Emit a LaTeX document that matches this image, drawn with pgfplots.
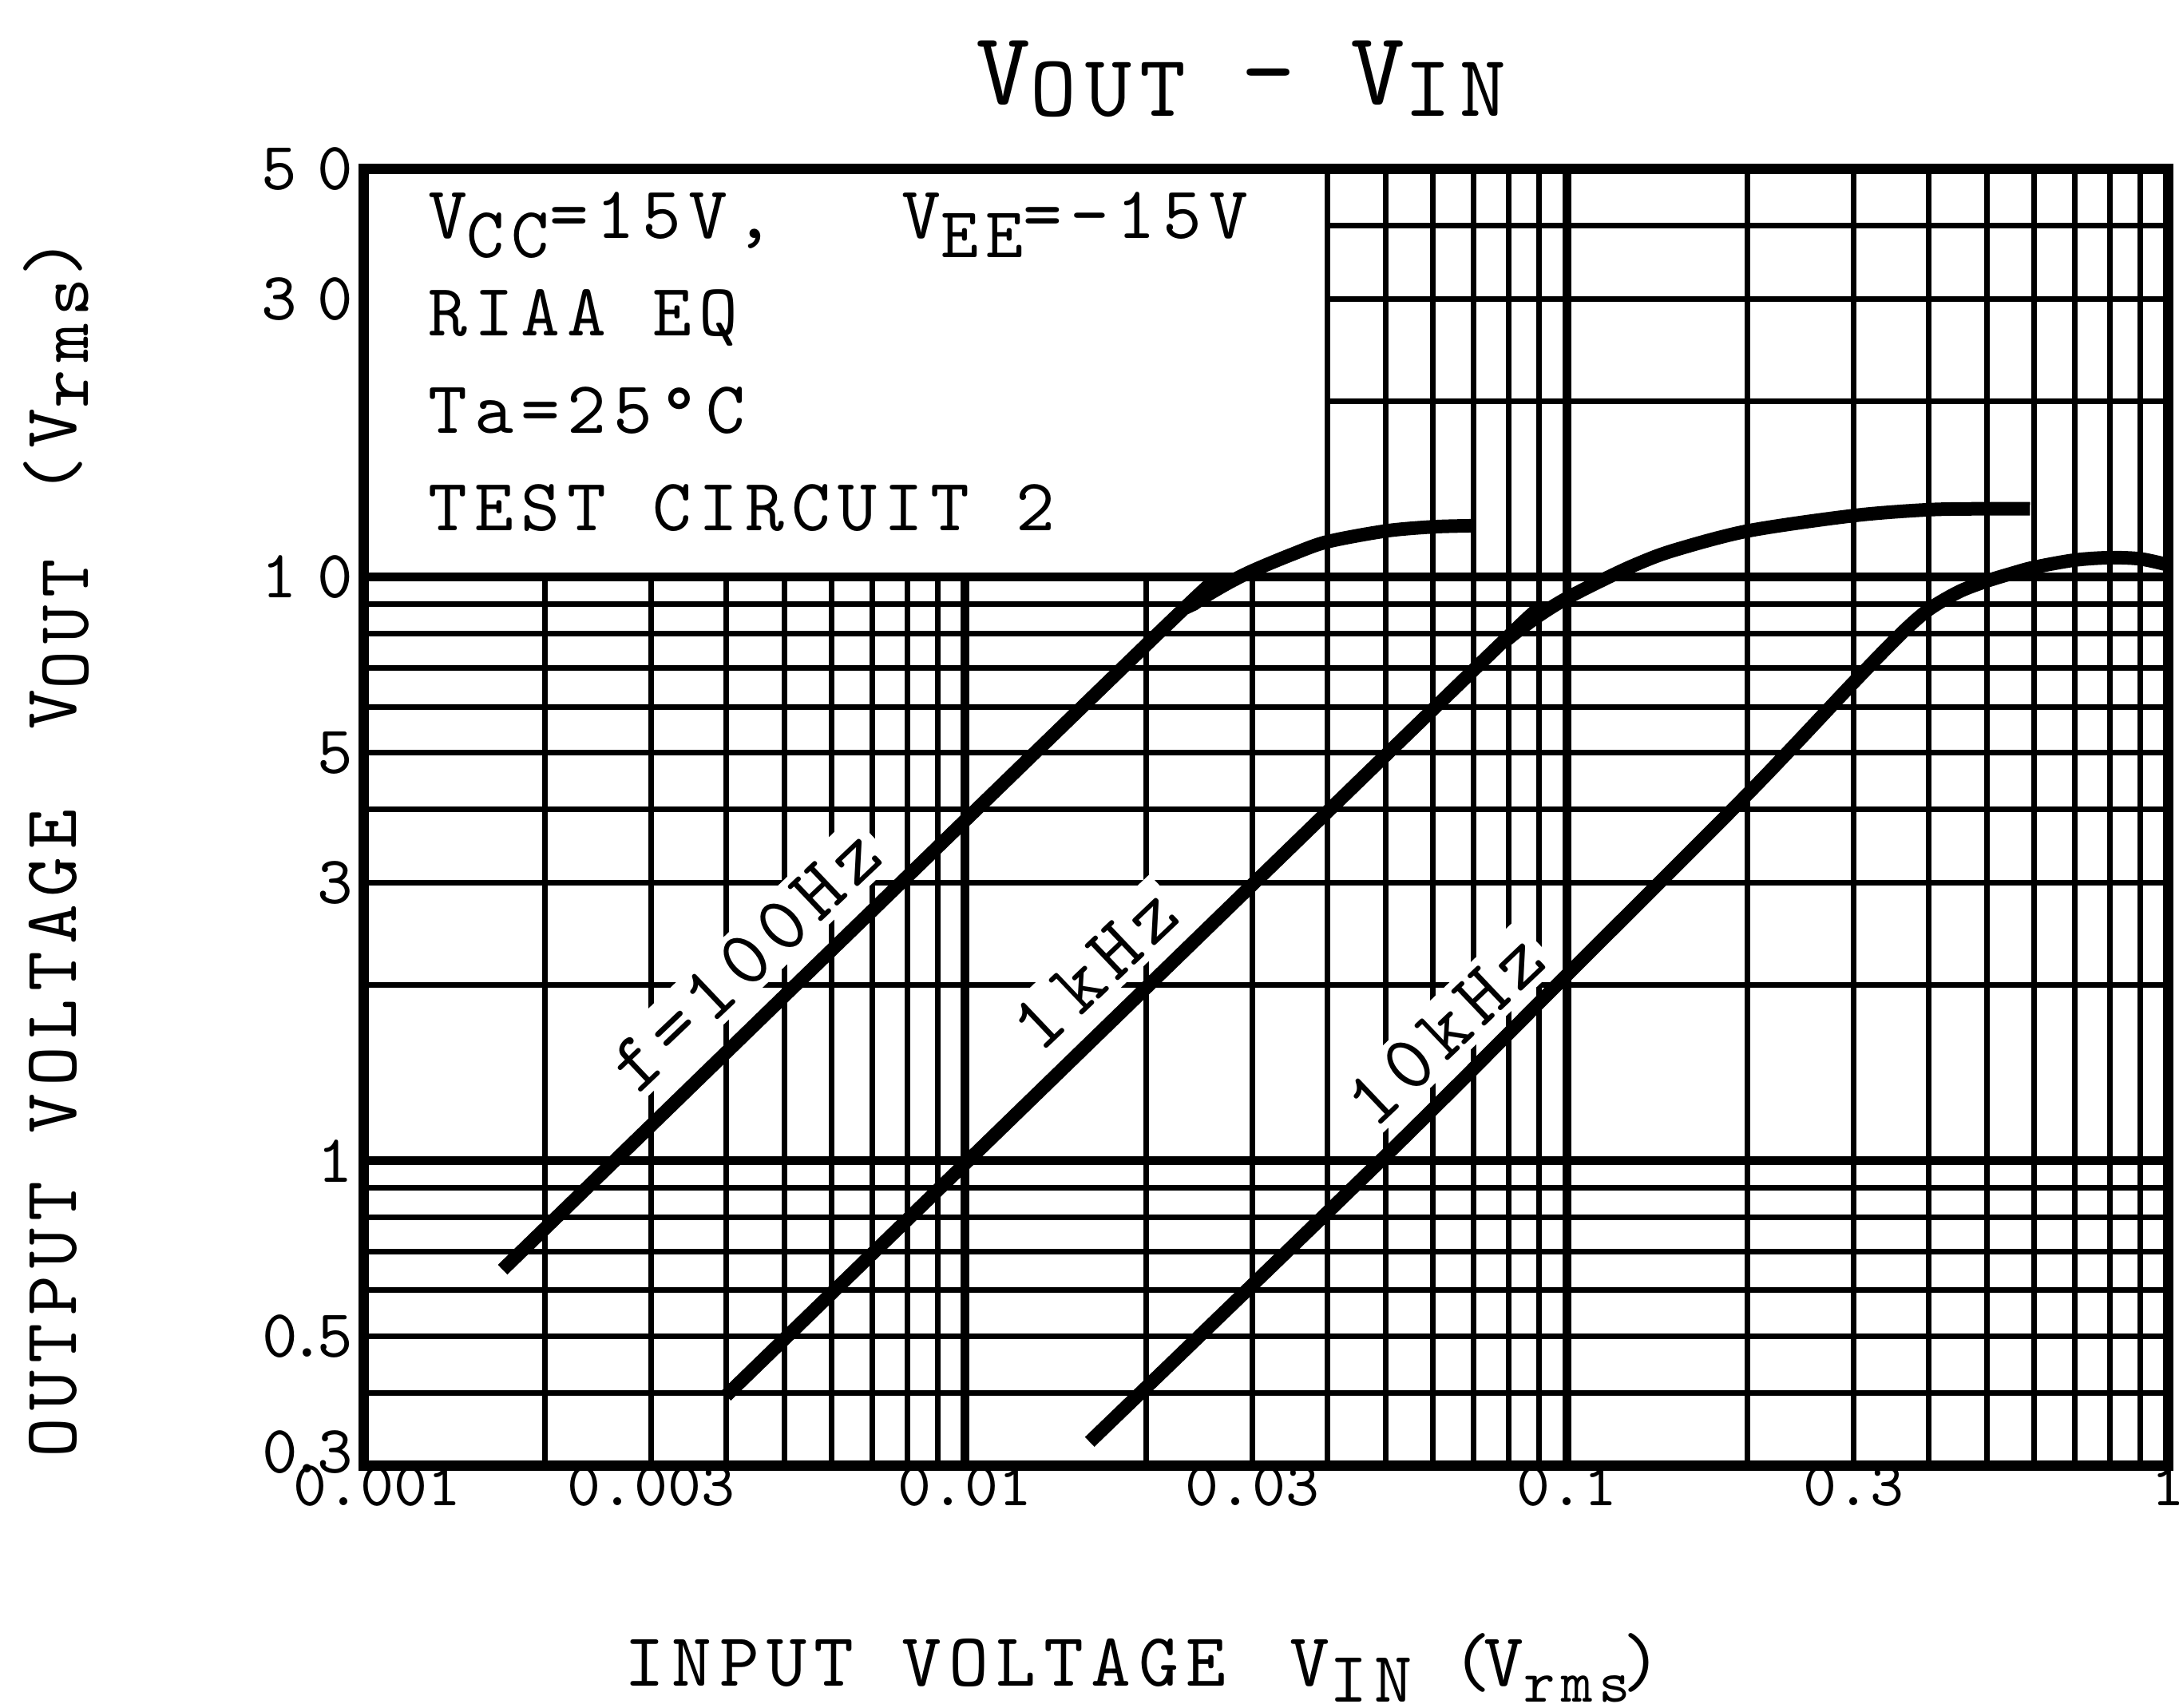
\documentclass[border=0pt]{standalone}
\usepackage{fontspec}
\setmainfont{lmmono10-regular.otf}[LetterSpace=10]
\newfontfamily\plainmono{lmmono10-regular.otf}
\usepackage{pgfplots}
\pgfplotsset{compat=1.18}

\newcommand{\fs}[1]{\fontsize{#1}{#1}\selectfont}
\newcommand{\sub}[1]{\raisebox{-2pt}{\fs{7.5}#1}}
\newcommand{\subb}[1]{\raisebox{-2.4pt}{\fs{9}#1}}
\newcommand{\subl}[1]{\raisebox{-1.4pt}{\fs{9.2}#1}}

\begin{document}
\begin{tikzpicture}
\useasboundingbox (-45.6pt,-30.3pt) rectangle (227.3pt,183.6pt);
\begin{axis}[
    at={(0,0)}, anchor=south west,
    scale only axis,
    width=225.9pt, height=162.4pt,
    xmode=log, ymode=log,
    xmin=0.001, xmax=1, ymin=0.3, ymax=50,
    xtick={0.001,0.002,0.003,0.004,0.005,0.006,0.007,0.008,0.009,0.01,0.02,0.03,0.04,0.05,0.06,0.07,0.08,0.09,0.1,0.2,0.3,0.4,0.5,0.6,0.7,0.8,0.9,1},
    xticklabels={\hspace{3.4pt}0.001,,0.003,,,,,,,0.01,,0.03,,,,,,,0.1,,0.3,,,,,,,1},
    ytick={0.3,0.4,0.5,0.6,0.7,0.8,0.9,1,2,3,4,5,6,7,8,9,10,20,30,40,50},
    yticklabels={\raisebox{-0.9pt}[0pt][0pt]{0\kern-1pt.\kern-1pt3},,0\kern-1pt.\kern-1pt5,,,,,1,,3,,5,,,,,1\kern2.5pt0,,3\kern2.5pt0,,5\kern2.5pt0},
    extra x ticks={0.01,0.1}, extra x tick labels={},
    extra y ticks={1,10}, extra y tick labels={},
    extra tick style={major grid style={black, line width=1.1pt}},
    major tick length=0pt,
    grid=major,
    major grid style={black, line width=0.7pt},
    axis line style={black, line width=1.3pt},
    xticklabel style={font=\plainmono\fs{8}, inner sep=0pt, anchor=north, yshift=0.2pt},
    yticklabel style={font=\plainmono\fs{8.5}, inner sep=0pt, anchor=east, xshift=-1.2pt},
]
% white box behind the conditions
\addplot[draw=none, fill=white] coordinates {
    (0.001,10) (0.04,10) (0.04,50) (0.001,50)} -- cycle;
\addplot[black, line width=1.1pt] coordinates {(0.001,10) (0.04,10)};
\addplot[black, line width=0.7pt] coordinates {(0.04,10) (0.04,50)};
\addplot[black, line width=1.3pt] coordinates {(0.001,10) (0.001,50) (0.04,50)};

% f = 100 Hz
\addplot[black, line width=1.7pt, smooth, tension=0.5] coordinates {
    (0.0017,0.651) (0.021,8.04) (0.024,9.0) (0.027,9.7) (0.03,10.25)
    (0.035,10.95) (0.04,11.5) (0.05,12.0) (0.06,12.2) (0.07,12.25)};
% f = 1 kHz
\addplot[black, line width=1.7pt, smooth, tension=0.5] coordinates {
    (0.004,0.396) (0.07,6.93) (0.08,7.85) (0.09,8.6) (0.1,9.2) (0.115,9.9)
    (0.13,10.5) (0.15,11.1) (0.2,12.0) (0.3,12.75) (0.4,13.05) (0.5,13.1)
    (0.59,13.1)};
% f = 10 kHz
\addplot[black, line width=1.7pt, smooth, tension=0.5] coordinates {
    (0.0161,0.33) (0.05,1.02) (0.1,2.08) (0.2,4.25) (0.3,6.6) (0.36,8.0)
    (0.4,8.8) (0.45,9.45) (0.5,9.85) (0.55,10.15) (0.6,10.4) (0.7,10.7)
    (0.8,10.8) (0.9,10.75) (1.0,10.5)};
\end{axis}

% title
\node[anchor=base] at (109.8pt,170.5pt)
    {\fs{13}V\raisebox{-1.5pt}{\fs{11}OUT}\fs{11} \fs{13}—\fs{11} \fs{13}V\raisebox{-1.5pt}{\fs{11}IN}};

% conditions
\begin{scope}[every node/.style={anchor=base west, inner sep=0pt, font=\fs{9.3}}]
\node at (7.8pt,153.7pt) {V\subb{CC}=15V,\hspace{16pt}V\subb{EE}=–15V};
\node at (7.8pt,141.5pt) {RIAA EQ};
\node at (7.8pt,129.3pt) {Ta=25°C};
\node at (7.8pt,117.1pt) {TEST CIRCUIT 2};
\end{scope}

% curve labels
\begin{scope}[every node/.style={rotate=43.5, fill=white, inner sep=0.8pt, font=\fs{10}}]
\node at (47.8pt,63.4pt) {f=100Hz};
\node at (91.5pt,62.2pt) {1\,kHz};
\node at (135.4pt,54.6pt) {10kHz};
\end{scope}

% axis labels
\node[rotate=90, anchor=base, font=\fs{9.5}] at (-36pt,77.4pt)
    {OUTPUT VOLTAGE\hspace{10pt}V\subl{OUT}\hspace{8pt}(V\subl{rms})};
\node[anchor=base, font=\fs{9.5}] at (97.6pt,-27.5pt)
    {INPUT VOLTAGE\hspace{8pt}V\raisebox{-2pt}{\fs{9}IN}\hspace{5pt}(\kern-1pt V\sub{rms}\kern-1pt)};
\end{tikzpicture}
\end{document}
